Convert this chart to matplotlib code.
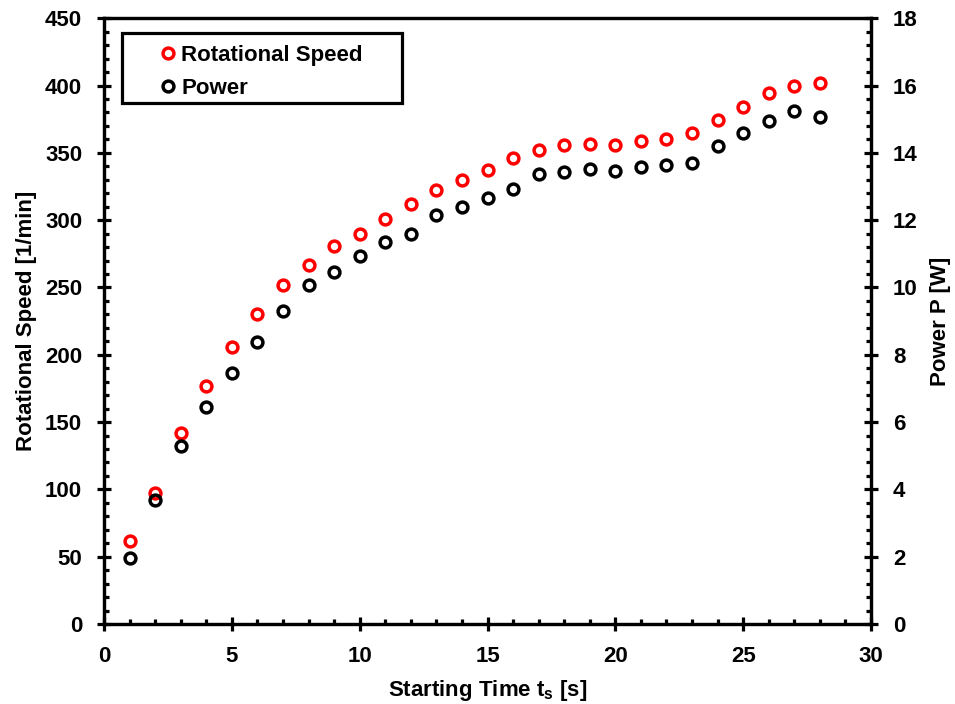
import numpy as np
import matplotlib
matplotlib.use('Agg')
from matplotlib import pyplot as plt
from matplotlib.ticker import MultipleLocator
from matplotlib.patches import Rectangle

plt.rcParams['font.family'] = ['Liberation Sans', 'DejaVu Sans']
plt.rcParams['font.weight'] = 'bold'
plt.rcParams['mathtext.fontset'] = 'custom'
plt.rcParams['mathtext.bf'] = 'Liberation Sans:bold'
plt.rcParams['mathtext.rm'] = 'Liberation Sans:bold'

# starting time [s]
t_s = list(range(1, 29))

# rotational speed [1/min]
speed = [61.5, 97, 142, 177, 205.5, 230, 251.5, 267, 280.5, 290,
         301, 312, 322.5, 329.5, 337.6, 346.2, 352.4, 355.6, 356.9, 356.1,
         358.8, 360.6, 365, 374.2, 384.3, 394.2, 399.6, 401.9]

# power [W]
power = [1.96, 3.68, 5.3, 6.45, 7.45, 8.37, 9.3, 10.07, 10.45, 10.93,
         11.34, 11.58, 12.15, 12.38, 12.66, 12.94, 13.38, 13.43, 13.51, 13.45,
         13.59, 13.65, 13.71, 14.2, 14.58, 14.95, 15.25, 15.06]

fs = 16

fig = plt.figure(figsize=(9.55, 7.04), dpi=100)
ax = fig.add_axes([0.109, 0.1136, 0.803, 0.8605])
ax2 = ax.twinx()

mk = dict(marker='o', linestyle='none', markersize=7.8, markerfacecolor='none',
          markeredgewidth=2.5)
h1, = ax.plot(t_s, speed, color='red', label='Rotational Speed', **mk)
h2, = ax2.plot(t_s, power, color='black', label='Power', **mk)

ax.set_xlim(0, 30)
ax.set_ylim(0, 450)
ax2.set_ylim(0, 18)

ax.xaxis.set_major_locator(MultipleLocator(5))
ax.xaxis.set_minor_locator(MultipleLocator(1))
ax.yaxis.set_major_locator(MultipleLocator(50))
ax.yaxis.set_minor_locator(MultipleLocator(10))
ax2.yaxis.set_major_locator(MultipleLocator(2))
ax2.yaxis.set_minor_locator(MultipleLocator(0.4))

for a in (ax, ax2):
    for s in a.spines.values():
        s.set_linewidth(2.3)
    a.tick_params(which='major', direction='inout', length=9.5, width=2.3,
                  labelsize=fs, pad=11)
    a.tick_params(which='minor', direction='in', length=3.8, width=2.3)
ax.tick_params(which='both', top=False, right=False)
ax2.tick_params(which='both', top=False, left=False)

ax.set_xlabel(r'Starting Time t$_\mathbf{s}$ [s]', fontsize=fs, fontweight='bold', labelpad=8)
ax.set_ylabel('Rotational Speed [1/min]', fontsize=fs, fontweight='bold', labelpad=6)
ax2.set_ylabel('Power P [W]', fontsize=fs, fontweight='bold', labelpad=9)

# legend box drawn as a separate rectangle, entries placed inside it
ax.add_patch(Rectangle((0.0235, 0.860), 0.365, 0.115, transform=ax.transAxes,
                       facecolor='white', edgecolor='black', linewidth=2.3,
                       zorder=5))
leg = ax.legend(handles=[h1, h2], loc='upper left', bbox_to_anchor=(0.069, 0.956),
                fontsize=fs, frameon=False, handletextpad=0.1, handlelength=1.0,
                borderpad=0, borderaxespad=0, labelspacing=0.55)
leg.set_zorder(6)
for txt in leg.get_texts():
    txt.set_fontweight('bold')

fig.savefig('out.png', dpi=100)
